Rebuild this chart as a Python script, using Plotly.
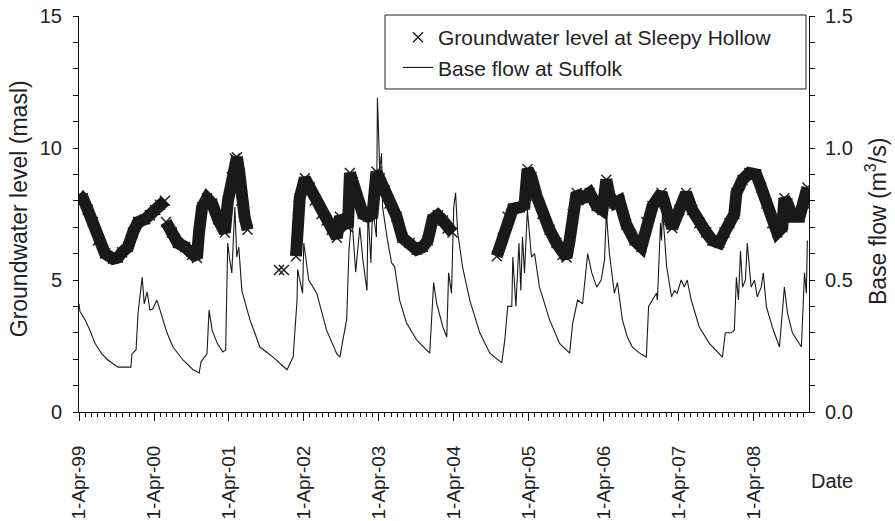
import plotly.graph_objects as go

# ---------------- data ----------------
# Groundwater level at Sleepy Hollow (masl); None marks a break in the record
gw_dates = [
    "1999-04-01", "1999-04-20", "1999-05-14", "1999-06-08", "1999-07-02", "1999-08-06",
    "1999-09-14", "1999-10-08", "1999-10-28", "1999-11-26", "1999-12-20", "2000-01-14",
    "2000-02-17", "2000-03-12", "2000-04-06", "2000-04-30", "2000-05-24",
    "2000-05-26",
    "2000-05-29", "2000-06-27", "2000-07-26", "2000-08-30", "2000-10-03", "2000-10-27",
    "2000-11-06", "2000-11-21", "2000-12-15", "2001-01-09", "2001-02-07", "2001-03-12",
    "2001-03-27", "2001-04-15", "2001-04-30", "2001-05-10", "2001-05-22", "2001-06-01",
    "2001-06-16", "2001-07-01",
    "2001-09-01",
    "2001-12-01", "2001-12-12", "2001-12-25",
    "2002-01-20",
    "2002-02-22", "2002-02-25", "2002-02-28", "2002-03-03", "2002-03-06", "2002-03-12",
    "2002-04-06", "2002-04-30", "2002-05-24", "2002-06-27", "2002-07-21", "2002-08-15",
    "2002-09-09", "2002-09-24", "2002-10-18", "2002-11-02", "2002-11-12", "2002-11-26",
    "2002-12-20", "2003-01-14", "2003-02-08", "2003-03-02", "2003-03-21", "2003-04-06",
    "2003-04-30", "2003-05-24", "2003-06-27", "2003-07-26", "2003-08-30", "2003-10-03",
    "2003-11-02", "2003-11-26", "2003-12-20", "2004-01-14", "2004-02-08", "2004-03-02",
    "2004-03-26",
    "2004-07-01",
    "2004-10-28", "2004-11-26", "2004-12-20", "2005-01-14", "2005-02-17", "2005-03-12",
    "2005-03-27", "2005-04-15", "2005-05-09", "2005-06-08", "2005-07-12", "2005-08-15",
    "2005-09-14", "2005-10-03", "2005-10-18", "2005-11-02", "2005-11-21", "2005-12-20",
    "2006-01-24", "2006-02-27", "2006-03-27", "2006-04-15", "2006-04-30", "2006-05-24",
    "2006-06-18", "2006-07-21", "2006-08-30", "2006-10-03", "2006-10-27", "2006-11-26",
    "2007-01-09", "2007-01-24", "2007-02-17", "2007-03-02", "2007-04-06", "2007-05-09",
    "2007-06-08", "2007-07-12", "2007-08-15", "2007-09-14", "2007-10-18", "2007-11-12",
    "2007-12-06", "2007-12-30", "2008-01-09", "2008-02-08", "2008-03-12", "2008-04-15",
    "2008-05-09", "2008-06-03", "2008-07-02", "2008-07-26", "2008-08-20", "2008-08-30",
    "2008-09-14", "2008-10-08", "2008-11-12", "2008-12-06", "2008-12-20",
]
gw_level = [
    8.2, 8.1, 7.65, 7.2, 6.5, 6.0,
    5.8, 5.85, 6.05, 6.25, 6.8, 7.2,
    7.3, 7.45, 7.65, 7.85, 8.0,
    None,
    7.2, 6.8, 6.4, 6.25, 5.95, 5.83,
    6.8, 7.75, 8.1, 7.9, 7.3, 6.8,
    8.0, 8.9, 9.6, 9.65, 9.05, 8.0,
    7.4, 6.9,
    None,
    5.38, None, 5.38,
    None,
    5.9, 6.4, 6.9, 7.4, 7.8, 8.1,
    8.85, 8.5, 8.0, 7.5, 7.25, 6.9,
    6.6, 7.4, 7.15, 7.0, 9.05, 8.7,
    7.9, 7.5, 7.4, 7.5, 9.1, 8.85,
    8.4, 7.9, 7.4, 6.6, 6.4, 6.15,
    6.25, 6.5, 7.3, 7.45, 7.25, 6.95,
    6.8,
    None,
    5.9, 6.6, 7.4, 7.7, 7.75, 7.85,
    9.2, 8.9, 8.2, 7.5, 6.9, 6.4,
    5.95, 5.85, 6.5, 7.5, 8.3, 8.1,
    8.3, 7.8, 7.65, 8.8, 8.2, 7.9,
    8.0, 7.1, 6.5, 6.25, 7.2, 7.8,
    8.3, 7.9, 7.27, 6.97, 7.65, 8.3,
    7.65, 7.15, 6.8, 6.5, 6.4, 6.8,
    7.15, 7.5, 8.3, 8.8, 9.05, 9.0,
    8.5, 7.9, 7.15, 6.8, 7.0, 8.1,
    7.9, 7.4, 7.4, 7.9, 8.5,
]

# Base flow at Suffolk (m3/s)
bf_dates = [
    "1999-04-01", "1999-04-06", "1999-04-30", "1999-05-24", "1999-06-18", "1999-07-21",
    "1999-08-20", "1999-10-08", "1999-11-26", "1999-12-10", "1999-12-15", "2000-01-04",
    "2000-01-14", "2000-02-03", "2000-02-13", "2000-02-27", "2000-03-12", "2000-03-26",
    "2000-04-15", "2000-04-30", "2000-06-03", "2000-07-02", "2000-08-20", "2000-10-08",
    "2000-11-07", "2000-11-16", "2000-12-15", "2000-12-25", "2001-01-09", "2001-02-03",
    "2001-03-02", "2001-03-16", "2001-03-26", "2001-04-05", "2001-04-15", "2001-04-30",
    "2001-05-09", "2001-05-19", "2001-06-03", "2001-07-12", "2001-08-30", "2001-11-02",
    "2002-01-09", "2002-02-08", "2002-02-27", "2002-03-02", "2002-03-12", "2002-03-26",
    "2002-04-01", "2002-04-15", "2002-04-25", "2002-06-03", "2002-07-21", "2002-09-09",
    "2002-09-24", "2002-10-08", "2002-10-27", "2002-11-07", "2002-11-21", "2002-12-10",
    "2002-12-30", "2003-01-14", "2003-02-03", "2003-02-08", "2003-02-22", "2003-03-02",
    "2003-03-21", "2003-03-26", "2003-04-06", "2003-04-15", "2003-04-20", "2003-05-14",
    "2003-06-03", "2003-06-18", "2003-07-12", "2003-08-15", "2003-10-03", "2003-12-06",
    "2003-12-15", "2003-12-25", "2004-01-09", "2004-02-08", "2004-02-27", "2004-03-07",
    "2004-03-21", "2004-04-01", "2004-04-10", "2004-04-20", "2004-05-14", "2004-06-18",
    "2004-08-06", "2004-09-24", "2004-11-21", "2004-12-06", "2004-12-20", "2005-01-09",
    "2005-01-14", "2005-01-29", "2005-02-13", "2005-02-22", "2005-03-02", "2005-03-12",
    "2005-03-26", "2005-04-15", "2005-04-30", "2005-05-24", "2005-07-12", "2005-08-30",
    "2005-10-18", "2005-11-02", "2005-11-26", "2005-12-20", "2006-01-14", "2006-02-03",
    "2006-02-27", "2006-03-21", "2006-04-06", "2006-04-15", "2006-04-30", "2006-05-24",
    "2006-06-08", "2006-07-02", "2006-07-26", "2006-08-20", "2006-09-24", "2006-10-27",
    "2006-11-07", "2006-11-26", "2006-12-15", "2006-12-20", "2007-01-04", "2007-01-09",
    "2007-01-14", "2007-02-03", "2007-02-27", "2007-03-12", "2007-03-26", "2007-04-15",
    "2007-04-30", "2007-05-14", "2007-06-03", "2007-07-12", "2007-08-30", "2007-11-02",
    "2007-11-16", "2007-12-15", "2007-12-30", "2008-01-09", "2008-01-19", "2008-01-29",
    "2008-02-08", "2008-02-22", "2008-03-02", "2008-03-21", "2008-04-06", "2008-04-20",
    "2008-05-09", "2008-05-19", "2008-06-03", "2008-07-02", "2008-08-06", "2008-08-30",
    "2008-09-14", "2008-10-08", "2008-11-21", "2008-12-06", "2008-12-15", "2008-12-20",
]
bf_flow = [
    0.41, 0.38, 0.35, 0.31, 0.26, 0.22,
    0.197, 0.17, 0.17, 0.17, 0.22, 0.235,
    0.375, 0.51, 0.41, 0.455, 0.386, 0.39,
    0.424, 0.386, 0.30, 0.246, 0.197, 0.16,
    0.148, 0.19, 0.22, 0.386, 0.31, 0.26,
    0.227, 0.235, 0.64, 0.576, 0.527, 0.776,
    0.587, 0.625, 0.46, 0.35, 0.246, 0.208,
    0.16, 0.208, 0.424, 0.54, 0.50, 0.45,
    0.64, 0.55, 0.50, 0.45, 0.31, 0.22,
    0.208, 0.27, 0.35, 0.61, 0.74, 0.53,
    0.70, 0.576, 0.46, 0.765, 0.565, 0.776,
    0.663, 1.19, 0.917, 0.98, 0.776, 0.65,
    0.565, 0.55, 0.424, 0.337, 0.273, 0.223,
    0.35, 0.49, 0.41, 0.322, 0.284, 0.527,
    0.45, 0.776, 0.83, 0.68, 0.55, 0.424,
    0.30, 0.223, 0.186, 0.273, 0.40, 0.40,
    0.587, 0.40, 0.64, 0.46, 0.663, 0.527,
    0.765, 0.587, 0.60, 0.473, 0.35, 0.26,
    0.223, 0.337, 0.424, 0.41, 0.60, 0.527,
    0.473, 0.50, 0.576, 0.754, 0.60, 0.45,
    0.49, 0.35, 0.284, 0.246, 0.223, 0.208,
    0.40, 0.424, 0.45, 0.424, 0.716, 0.65,
    0.765, 0.55, 0.436, 0.46, 0.45, 0.50,
    0.473, 0.50, 0.424, 0.322, 0.26, 0.208,
    0.30, 0.30, 0.31, 0.51, 0.424, 0.61,
    0.473, 0.50, 0.64, 0.473, 0.50, 0.436,
    0.473, 0.527, 0.40, 0.322, 0.246, 0.473,
    0.375, 0.30, 0.246, 0.527, 0.45, 0.65,
]

tick_dates = ["1999-04-01", "2000-04-01", "2001-04-01", "2002-04-01", "2003-04-01",
              "2004-04-01", "2005-04-01", "2006-04-01", "2007-04-01", "2008-04-01"]
tick_text = ["1-Apr-99", "1-Apr-00", "1-Apr-01", "1-Apr-02", "1-Apr-03",
             "1-Apr-04", "1-Apr-05", "1-Apr-06", "1-Apr-07", "1-Apr-08"]
left_ticks = [0, 5, 10, 15]
right_ticks = [0.0, 0.5, 1.0, 1.5]

# ---------------- figure ----------------
FONT = "Liberation Sans, Arial, Helvetica, sans-serif"
INK = "#1a1a1a"
TXT = "#222222"

fig = go.Figure()

# dense daily record rendered as a band under the markers
fig.add_trace(go.Scatter(
    x=gw_dates, y=gw_level, mode="lines", connectgaps=False,
    line=dict(color=INK, width=12), showlegend=False, hoverinfo="skip",
))
fig.add_trace(go.Scatter(
    x=gw_dates, y=gw_level, mode="markers",
    name="Groundwater level at Sleepy Hollow",
    marker=dict(symbol="x-thin-open", size=10, color=INK, line=dict(color=INK, width=1.4)),
))
fig.add_trace(go.Scatter(
    x=bf_dates, y=bf_flow, mode="lines", yaxis="y2",
    name="Base flow at Suffolk",
    line=dict(color=INK, width=1.1),
))

fig.update_layout(
    width=895, height=521,
    margin=dict(l=79, r=86, t=16, b=109, autoexpand=False),
    paper_bgcolor="white", plot_bgcolor="white",
    font=dict(family=FONT, size=20, color=TXT),
    xaxis=dict(
        type="date", range=["1999-04-01", "2008-12-28"], automargin=False,
        tickmode="array", tickvals=tick_dates, ticktext=tick_text, tickangle=-90,
        ticks="outside", ticklen=8, tickwidth=1, tickcolor="#111",
        ticklabelstandoff=17, ticklabeloverflow="allow",
        showline=True, linecolor="#111", linewidth=1,
        showgrid=False, zeroline=False,
        minor=dict(dtick="M1", tick0="1999-04-01", ticks="outside", ticklen=4,
                   tickcolor="#111", showgrid=False),
        tickfont=dict(size=19),
    ),
    yaxis=dict(
        range=[0, 15], tickmode="array", tickvals=left_ticks, automargin=False,
        ticks="outside", ticklen=5, tickcolor="#111", ticklabelstandoff=7,
        ticklabeloverflow="allow",
        showline=True, linecolor="#111", linewidth=1,
        showgrid=False, zeroline=False,
        minor=dict(dtick=1, ticks="outside", ticklen=5, tickcolor="#111", showgrid=False),
        tickfont=dict(size=20),
    ),
    yaxis2=dict(
        range=[0, 1.5], overlaying="y", side="right", automargin=False,
        tickmode="array", tickvals=right_ticks, tickformat=".1f",
        ticks="outside", ticklen=5, tickcolor="#111", ticklabelstandoff=6,
        ticklabeloverflow="allow",
        showline=True, linecolor="#111", linewidth=1,
        showgrid=False, zeroline=False,
        minor=dict(dtick=0.1, ticks="outside", ticklen=5, tickcolor="#111", showgrid=False),
        tickfont=dict(size=20),
    ),
    legend=dict(
        x=0.437, xanchor="left", y=0.9975, yanchor="top",
        bgcolor="rgba(0,0,0,0)", borderwidth=0,
        font=dict(size=21, color=TXT), tracegroupgap=0,
    ),
    shapes=[
        dict(type="rect", xref="paper", yref="paper",
             x0=0.4192, x1=0.9959, y0=0.8157, y1=1.0025,
             line=dict(color="#222", width=1), fillcolor="rgba(0,0,0,0)", layer="above"),
    ],
    annotations=[
        dict(text="Groundwater level (masl)", xref="paper", yref="paper",
             x=-0.083, y=0.513, textangle=-90, showarrow=False,
             font=dict(size=23, color=TXT), xanchor="center", yanchor="middle"),
        dict(text="Base flow (m<sup>3</sup>/s)", xref="paper", yref="paper",
             x=1.092, y=0.48, textangle=-90, showarrow=False,
             font=dict(size=23, color=TXT), xanchor="center", yanchor="middle"),
        dict(text="Date", xref="paper", yref="paper",
             x=1.0315, y=-0.174, showarrow=False,
             font=dict(size=20, color=TXT), xanchor="center", yanchor="middle"),
    ],
)

# remove the browser's default 8px page margin so the figure sits at the window's corner
fig.write_html("out.html", config={"displayModeBar": False},
               post_script="document.body.style.margin='0';")
